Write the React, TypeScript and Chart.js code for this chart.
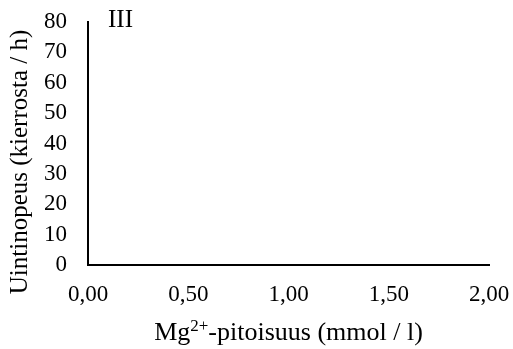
import React, { useEffect, useRef } from "react";
import { Chart, registerables } from "chart.js";

Chart.register(...registerables);

const xTicks: number[] = [0, 0.5, 1, 1.5, 2];
const yTicks: number[] = [0, 10, 20, 30, 40, 50, 60, 70, 80];
const seriesPoints: { x: number; y: number }[] = [];
const panelLabel = "III";
const yTitle = "Uintinopeus (kierrosta / h)";
const xTitleParts = ["Mg", "2+", "-pitoisuus (mmol / l)"];

const FONT = "'Liberation Serif', 'Times New Roman', serif";
const TICK_SIZE = 23;

const titlesPlugin = {
  id: "titles",
  afterDraw(chart: any) {
    const ctx = chart.ctx as CanvasRenderingContext2D;
    const area = chart.chartArea;
    ctx.save();
    ctx.fillStyle = "#000";
    // panel label
    ctx.font = `25px ${FONT}`;
    ctx.textAlign = "left";
    ctx.textBaseline = "alphabetic";
    ctx.fillText(panelLabel, area.left + 20, 27);
    // y title
    ctx.save();
    ctx.translate(27, 162);
    ctx.rotate(-Math.PI / 2);
    ctx.textAlign = "center";
    ctx.textBaseline = "alphabetic";
    ctx.font = `25px ${FONT}`;
    ctx.fillText(yTitle, 0, 0);
    ctx.restore();
    // x title with superscript
    const base = `26px ${FONT}`;
    const sup = `17px ${FONT}`;
    ctx.textBaseline = "alphabetic";
    ctx.font = base;
    const w0 = ctx.measureText(xTitleParts[0]).width;
    const w2 = ctx.measureText(xTitleParts[2]).width;
    ctx.font = sup;
    const w1 = ctx.measureText(xTitleParts[1]).width;
    const total = w0 + w1 + w2;
    let x = (area.left + area.right) / 2 - total / 2;
    const by = 340;
    ctx.font = base;
    ctx.fillText(xTitleParts[0], x, by);
    x += w0;
    ctx.font = sup;
    ctx.fillText(xTitleParts[1], x, by - 9);
    x += w1;
    ctx.font = base;
    ctx.fillText(xTitleParts[2], x, by);
    ctx.restore();
  },
};

export default function App() {
  const ref = useRef<HTMLCanvasElement | null>(null);
  useEffect(() => {
    if (!ref.current) return;
    const chart = new Chart(ref.current, {
      type: "scatter",
      data: {
        datasets: [
          {
            data: seriesPoints,
            backgroundColor: "#000",
            borderColor: "#000",
          },
        ],
      },
      options: {
        animation: false,
        responsive: false,
        maintainAspectRatio: false,
        layout: { padding: { top: 22, right: 24, left: 0, bottom: 0 } },
        plugins: { legend: { display: false }, tooltip: { enabled: false } },
        scales: {
          x: {
            type: "linear",
            min: xTicks[0],
            max: xTicks[xTicks.length - 1],
            afterBuildTicks: (s: any) => {
              s.ticks = xTicks.map((v) => ({ value: v }));
            },
            afterFit: (s: any) => {
              s.height = 84;
              s.paddingLeft = 0;
              s.paddingRight = 0;
            },
            grid: { display: false, drawTicks: false },
            border: { display: true, color: "#000", width: 2 },
            ticks: {
              color: "#000",
              font: { family: FONT, size: TICK_SIZE },
              padding: 16,
              maxRotation: 0,
              autoSkip: false,
              callback: (v: any) => Number(v).toFixed(2).replace(".", ","),
            },
          },
          y: {
            type: "linear",
            min: yTicks[0],
            max: yTicks[yTicks.length - 1],
            afterBuildTicks: (s: any) => {
              s.ticks = yTicks.map((v) => ({ value: v }));
            },
            afterFit: (s: any) => {
              s.width = 88;
              s.paddingTop = 0;
              s.paddingBottom = 0;
            },
            grid: { display: false, drawTicks: false },
            border: { display: true, color: "#000", width: 2 },
            ticks: {
              color: "#000",
              font: { family: FONT, size: TICK_SIZE },
              padding: 21,
              autoSkip: false,
              callback: (v: any) => String(v),
            },
          },
        },
      },
      plugins: [titlesPlugin],
    });
    return () => chart.destroy();
  }, []);
  return (
    <div style={{ position: "fixed", left: 0, top: 0, width: 513, height: 349, background: "#fff" }}>
      <canvas ref={ref} width={513} height={349} style={{ width: 513, height: 349, display: "block" }} />
    </div>
  );
}
